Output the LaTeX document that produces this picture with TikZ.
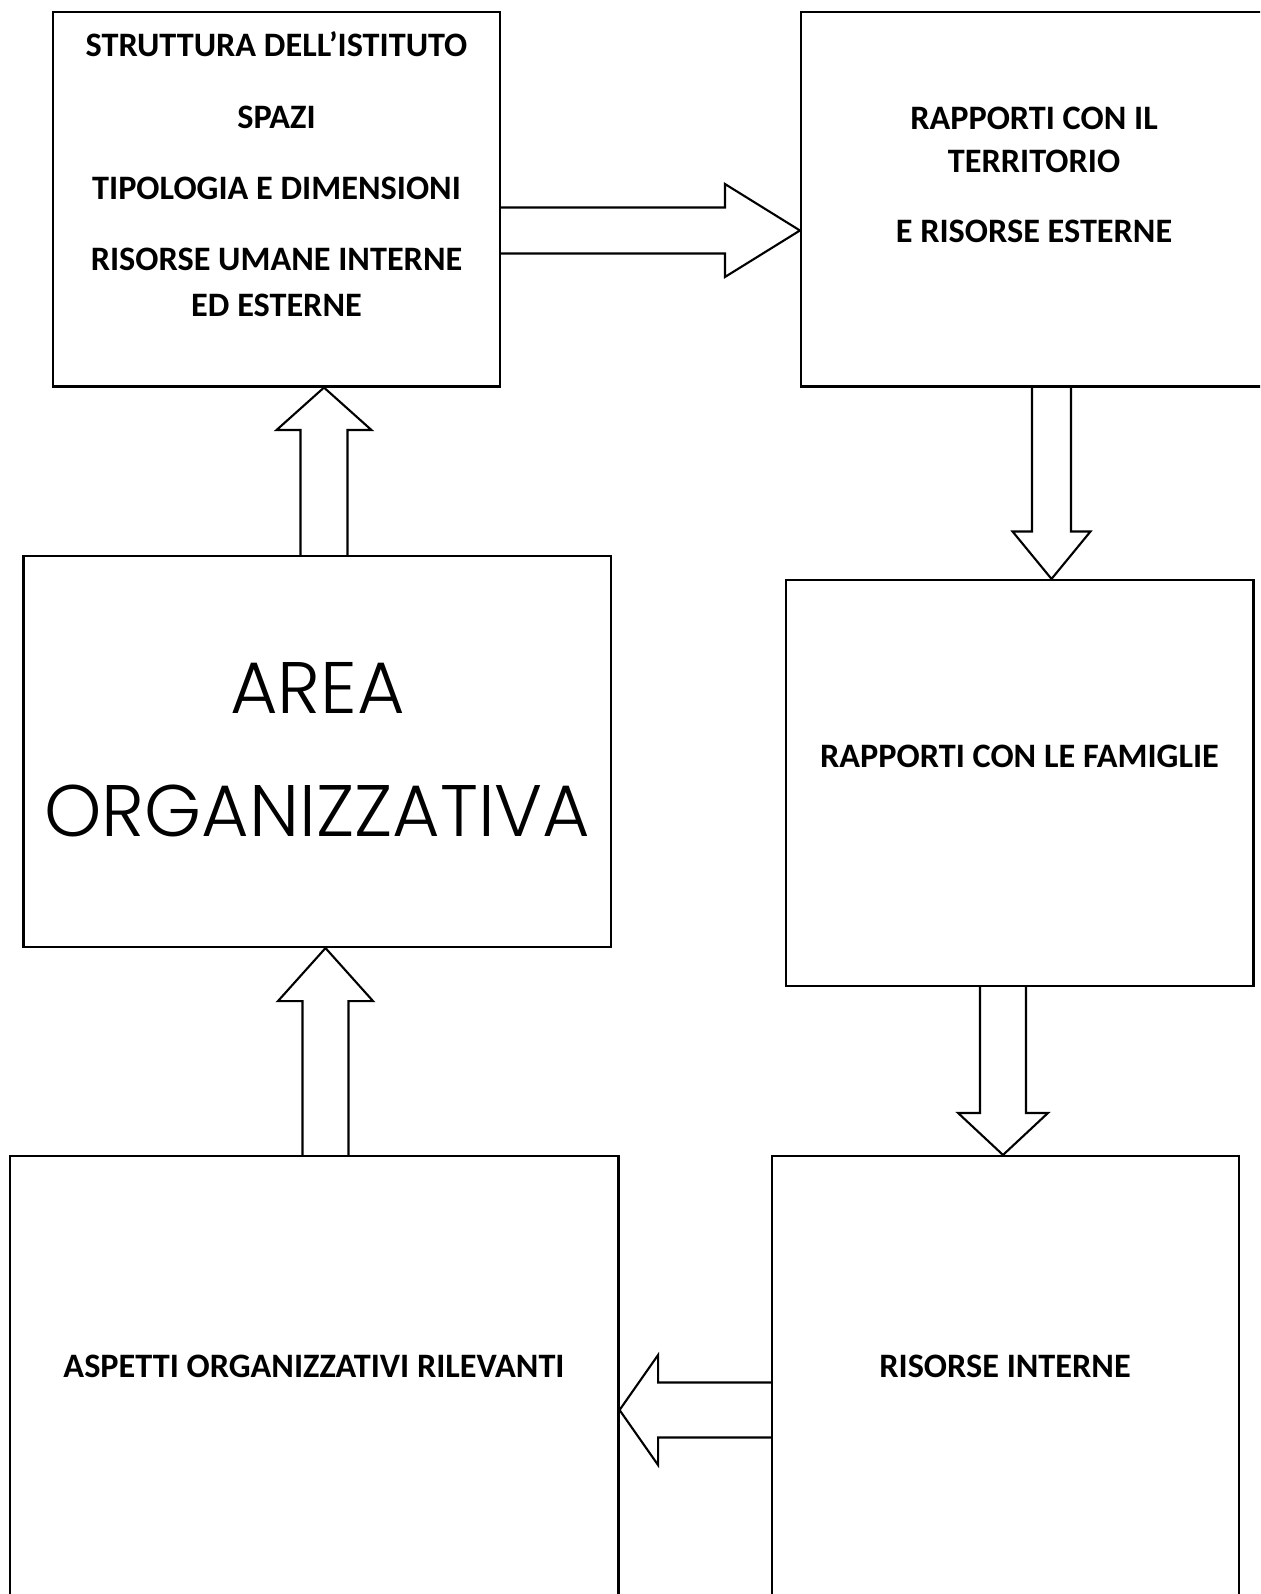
\documentclass[tikz,border=0pt]{standalone}
\usepackage{fontspec}
\setmainfont{Carlito}
\newfontfamily\areafont{Poppins Light}
\usepackage{tikz}
\usetikzlibrary{calc}
% block arrow: half shaft, half head, head length
\tikzset{fat/.style n args={3}{to path={
	let \p1=(\tikztostart), \p2=(\tikztotarget),
	\n1={veclen(\x2-\x1,\y2-\y1)}, \n2={atan2(\y2-\y1,\x2-\x1)} in
	[shift={(\p1)}, rotate=\n2] (0,#1) -- (\n1-#3,#1) -- (\n1-#3,#2) -- (\n1,0)
	-- (\n1-#3,-#2) -- (\n1-#3,-#1) -- (0,-#1)}}}

\begin{document}
\begin{tikzpicture}[line width=1.2pt, line join=miter]
				\tikzstyle{every node}=[inner sep=0pt, font=\bfseries\fontsize{19.5}{23}\selectfont];
				\tikzstyle{box}=[draw, rectangle];
				\path [use as bounding box, fill=white] (0,0) rectangle (25.2,-31.88);
				\clip (0,0) rectangle (25.2,-31.88);
				% boxes
				\node [box, minimum width=8.94cm, minimum height=7.49cm] (strutt) at (5.53,-3.985) {};
				\node [box, minimum width=9.32cm, minimum height=7.49cm] (terr) at (20.68,-3.985) {};
				\node [box, minimum width=11.75cm, minimum height=7.82cm] (area) at (6.345,-15.03) {};
				\node [box, minimum width=9.35cm, minimum height=8.12cm] (fam) at (20.395,-15.66) {};
				\node [box, minimum width=9.34cm, minimum height=9.88cm] (interne) at (20.11,-28.06) {};
				\node [box, minimum width=12.17cm, minimum height=9.88cm] (aspetti) at (6.285,-28.06) {};
				% texts
				\node (t11) at (5.53,-0.89) {STRUTTURA DELL’ISTITUTO};
				\node (t12) at (5.53,-2.35) {SPAZI};
				\node (t13) at (5.53,-3.76) {TIPOLOGIA E DIMENSIONI};
				\node (t14) at (5.53,-5.19) {RISORSE UMANE INTERNE};
				\node (t15) at (5.53,-6.11) {ED ESTERNE};
				\node (t21) at (20.68,-2.36) {RAPPORTI CON IL};
				\node (t22) at (20.68,-3.23) {TERRITORIO};
				\node (t23) at (20.68,-4.63) {E RISORSE ESTERNE};
				\node [font=\areafont\fontsize{41.5}{50}\selectfont] (t31) at (6.35,-13.75) {AREA};
				\node [font=\areafont\fontsize{41.5}{50}\selectfont] (t32) at (6.35,-16.21) {ORGANIZZATIVA};
				\node (t41) at (20.39,-15.13) {RAPPORTI CON LE FAMIGLIE};
				\node (t51) at (20.1,-27.32) {RISORSE INTERNE};
				\node (t61) at (6.28,-27.32) {ASPETTI ORGANIZZATIVI RILEVANTI};
				% arrows
				\draw [fat={0.46cm}{0.93cm}{1.5cm}] (strutt.east |- 0,-4.61) to (terr.west |- 0,-4.61);
				\draw [fat={0.47cm}{0.95cm}{0.85cm}] (area.north -| 6.48,0) to (strutt.south -| 6.48,0);
				\draw [fat={0.39cm}{0.78cm}{0.95cm}] (terr.south -| 21.03,0) to (fam.north -| 21.03,0);
				\draw [fat={0.46cm}{0.9cm}{0.84cm}] (fam.south -| 20.06,0) to (interne.north -| 20.06,0);
				\draw [fat={0.55cm}{1.1cm}{0.77cm}] (interne.west |- 0,-28.2) to (aspetti.east |- 0,-28.2);
				\draw [fat={0.46cm}{0.95cm}{1.06cm}] (aspetti.north -| 6.51,0) to (area.south -| 6.51,0);
			\end{tikzpicture}
\end{document}
